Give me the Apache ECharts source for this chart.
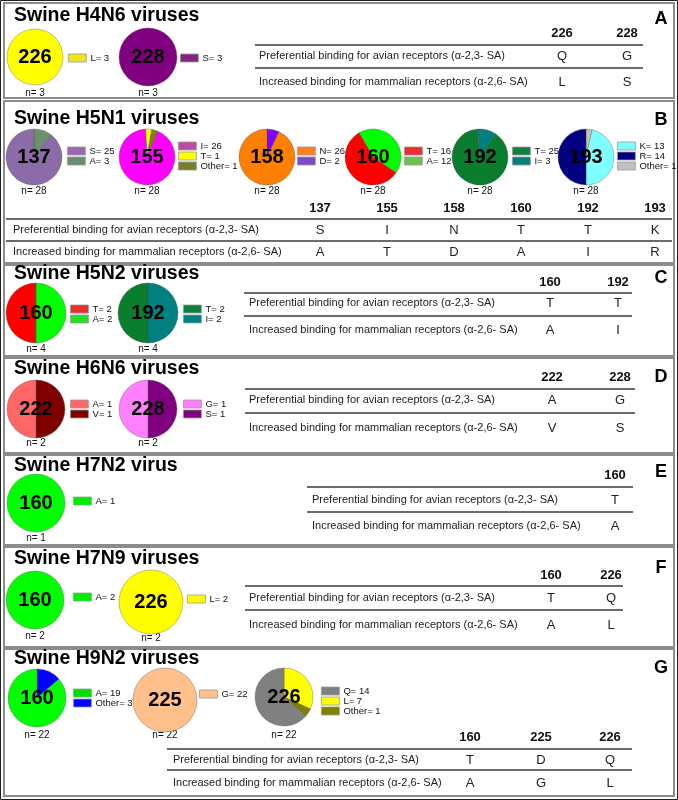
<!DOCTYPE html>
<html><head><meta charset="utf-8">
<script src="https://cdn.jsdelivr.net/npm/echarts@6/dist/echarts.min.js"></script>
<style>html,body{margin:0;padding:0;background:#fff}#c{width:678px;height:800px}</style>
</head><body><div id="c"></div><script>
// ---------------- DATA ----------------
const panelTitles = ['Swine H4N6 viruses','Swine H5N1 viruses','Swine H5N2 viruses','Swine H6N6 viruses','Swine H7N2 virus','Swine H7N9 viruses','Swine H9N2 viruses'];
const panelLetters = ['A','B','C','D','E','F','G'];

// residue counts per HA site (legend order)
const H4N6_226 = [['L',3]];
const H4N6_228 = [['S',3]];
const H5N1_137 = [['S',25],['A',3]];
const H5N1_155 = [['I',26],['T',1],['Other',1]];
const H5N1_158 = [['N',26],['D',2]];
const H5N1_160 = [['T',16],['A',12]];
const H5N1_192 = [['T',25],['I',3]];
const H5N1_193 = [['K',13],['R',14],['Other',1]];
const H5N2_160 = [['T',2],['A',2]];
const H5N2_192 = [['T',2],['I',2]];
const H6N6_222 = [['A',1],['V',1]];
const H6N6_228 = [['G',1],['S',1]];
const H7N2_160 = [['A',1]];
const H7N9_160 = [['A',2]];
const H7N9_226 = [['L',2]];
const H9N2_160 = [['A',19],['Other',3]];
const H9N2_225 = [['G',22]];
const H9N2_226 = [['Q',14],['L',7],['Other',1]];

// receptor-binding tables: sites, avian-type residue, mammalian-type residue
const rowLabels = ['Preferential binding for avian receptors (α-2,3- SA)','Increased binding for mammalian receptors (α-2,6- SA)'];
const H4N6_sites = ['226','228'], H4N6_avian = ['Q','G'], H4N6_mammal = ['L','S'];
const H5N1_sites = ['137','155','158','160','192','193'], H5N1_avian = ['S','I','N','T','T','K'], H5N1_mammal = ['A','T','D','A','I','R'];
const H5N2_sites = ['160','192'], H5N2_avian = ['T','T'], H5N2_mammal = ['A','I'];
const H6N6_sites = ['222','228'], H6N6_avian = ['A','G'], H6N6_mammal = ['V','S'];
const H7N2_sites = ['160'], H7N2_avian = ['T'], H7N2_mammal = ['A'];
const H7N9_sites = ['160','226'], H7N9_avian = ['T','Q'], H7N9_mammal = ['A','L'];
const H9N2_sites = ['160','225','226'], H9N2_avian = ['T','D','Q'], H9N2_mammal = ['A','G','L'];

// ---------------- LAYOUT ----------------
const FONT = "'Liberation Sans', Arial, Helvetica, sans-serif";
const panelBox = [[3,98],[101,263],[265,356],[358,453],[455,545],[547,647],[649,796]];
const titleY = [16,119,274,369,466,559,659];
const letterY = [19,120,278,377,472,568,668];

const pieLayout = [
 {id:'a226', site:'226', data:H4N6_226, c:[35,57],  r:28, lg:[68,53],  order:[0],     start:90,  col:['#FFFF00'], lcol:['#F2E31C'], nY:93},
 {id:'a228', site:'228', data:H4N6_228, c:[148,57], r:29, lg:[180,53], order:[0],     start:90,  col:['#800080'], lcol:['#812781'], nY:93},
 {id:'b137', site:'137', data:H5N1_137, c:[34,157], r:28, lg:[67,146], order:[1,0],   start:90,  col:['#8C6BA9','#6D8F70'], lcol:['#9A67B0','#6B8C6E'], nY:191},
 {id:'b155', site:'155', data:H5N1_155, c:[147,157],r:28, lg:[178,141],order:[1,2,0], start:93,  col:['#FF00FF','#FFFF00','#808000'], lcol:['#BE4AA6','#FFFF00','#7D7D27'], nY:191},
 {id:'b158', site:'158', data:H5N1_158, c:[267,157],r:28, lg:[297,146],order:[1,0],   start:90,  col:['#FF8000','#8000FF'], lcol:['#FF7F1E','#7E4CC2'], nY:191},
 {id:'b160', site:'160', data:H5N1_160, c:[373,157],r:28, lg:[404,146],order:[1,0],   start:120, col:['#FF0000','#00FF00'], lcol:['#EC2A30','#6BC24B'], nY:191},
 {id:'b192', site:'192', data:H5N1_192, c:[480,157],r:28, lg:[512,146],order:[1,0],   start:95,  col:['#0B7D2F','#007F80'], lcol:['#0E8040','#00807F'], nY:191},
 {id:'b193', site:'193', data:H5N1_193, c:[586,157],r:28, lg:[617,141],order:[2,0,1], start:90,  col:['#80FFFF','#000080','#C0C0C0'], lcol:['#80FFFF','#000080','#C0C0C0'], nY:191},
 {id:'c160', site:'160', data:H5N2_160, c:[36,313], r:30, lg:[70,304], order:[1,0],   start:90,  col:['#FF0000','#00FF00'], lcol:['#EE2A2A','#22E022'], nY:349},
 {id:'c192', site:'192', data:H5N2_192, c:[148,313],r:30, lg:[183,304],order:[1,0],   start:90,  col:['#0B7D2F','#008080'], lcol:['#0E8040','#008080'], nY:349},
 {id:'d222', site:'222', data:H6N6_222, c:[36,409], r:29, lg:[70,399], order:[1,0],   start:90,  col:['#FF6666','#800000'], lcol:['#FF6666','#800000'], nY:443},
 {id:'d228', site:'228', data:H6N6_228, c:[148,409],r:29, lg:[183,399],order:[1,0],   start:90,  col:['#FF80FF','#800080'], lcol:['#FF80FF','#800080'], nY:443},
 {id:'e160', site:'160', data:H7N2_160, c:[36,503], r:29, lg:[73,496], order:[0],     start:90,  col:['#00FF00'], lcol:['#00F000'], nY:538},
 {id:'f160', site:'160', data:H7N9_160, c:[35,600], r:29, lg:[73,592], order:[0],     start:90,  col:['#00FF00'], lcol:['#00F000'], nY:636},
 {id:'f226', site:'226', data:H7N9_226, c:[151,602],r:32, lg:[187,594],order:[0],     start:90,  col:['#FFFF00'], lcol:['#FFFF00'], nY:638},
 {id:'g160', site:'160', data:H9N2_160, c:[37,698], r:29, lg:[73,688], order:[1,0],   start:90,  col:['#00FF00','#0000FF'], lcol:['#00E000','#0000FF'], nY:735},
 {id:'g225', site:'225', data:H9N2_225, c:[165,700],r:32, lg:[199,689],order:[0],     start:90,  col:['#FFC08C'], lcol:['#FFC08C'], nY:735},
 {id:'g226', site:'226', data:H9N2_226, c:[284,697],r:29, lg:[321,686],order:[1,2,0], start:90,  col:['#808080','#FFFF00','#808000'], lcol:['#808080','#FFFF00','#808000'], nY:735}
];

const tableLayout = [
 {sites:H4N6_sites, av:H4N6_avian, mm:H4N6_mammal, hY:33,  l1:45,  r1:56,  l2:68,  r2:82,  x0:255, x1:643, lx:259, cols:[562,627]},
 {sites:H5N1_sites, av:H5N1_avian, mm:H5N1_mammal, hY:208, l1:219, r1:230, l2:241, r2:252, x0:6,   x1:672, lx:13,  cols:[320,387,454,521,588,655]},
 {sites:H5N2_sites, av:H5N2_avian, mm:H5N2_mammal, hY:282, l1:293, r1:303, l2:316, r2:330, x0:244, x1:632, lx:249, cols:[550,618]},
 {sites:H6N6_sites, av:H6N6_avian, mm:H6N6_mammal, hY:377, l1:389, r1:400, l2:413, r2:428, x0:245, x1:635, lx:249, cols:[552,620]},
 {sites:H7N2_sites, av:H7N2_avian, mm:H7N2_mammal, hY:475, l1:487, r1:500, l2:512, r2:526, x0:307, x1:633, lx:312, cols:[615]},
 {sites:H7N9_sites, av:H7N9_avian, mm:H7N9_mammal, hY:575, l1:586, r1:598, l2:610, r2:625, x0:245, x1:623, lx:249, cols:[551,611]},
 {sites:H9N2_sites, av:H9N2_avian, mm:H9N2_mammal, hY:737, l1:749, r1:760, l2:770, r2:783, x0:167, x1:632, lx:173, cols:[470,541,610]}
];

// ---------------- BUILD ----------------
const series = [], legends = [], graphics = [], labelMap = {};

graphics.push({type:'rect', shape:{x:0.5,y:0.5,width:677,height:799}, style:{fill:'none', stroke:'#222', lineWidth:1}, silent:true});
panelBox.forEach((b,i) => {
  graphics.push({type:'rect', shape:{x:4,y:b[0],width:670,height:b[1]-b[0]}, style:{fill:'none', stroke:'#8c8c8c', lineWidth:2}, silent:true});
  graphics.push({type:'text', x:14, y:titleY[i], style:{text:panelTitles[i], font:'bold 19.5px '+FONT, fill:'#000', textVerticalAlign:'middle'}, silent:true});
  graphics.push({type:'text', x:661, y:letterY[i], style:{text:panelLetters[i], font:'bold 18px '+FONT, fill:'#000', textAlign:'center', textVerticalAlign:'middle'}, silent:true});
});

pieLayout.forEach(p => {
  const names = p.data.map(d => p.id + '|' + d[0]);
  p.data.forEach((d,k) => { labelMap[names[k]] = d[0] + '= ' + d[1]; });
  const total = p.data.reduce((s,d) => s + d[1], 0);
  const sdata = p.order.map((k,j) => {
    const item = {name:names[k], value:p.data[k][1], itemStyle:{color:p.col[k]}};
    if (j === 0) item.label = {show:true, position:'center', formatter:p.site, fontSize:20, fontWeight:'bold', color:'#000', fontFamily:FONT};
    return item;
  });
  series.push({type:'pie', center:p.c, radius:p.r, startAngle:p.start, clockwise:true,
    avoidLabelOverlap:false, label:{show:false}, labelLine:{show:false},
    itemStyle:{borderColor:'rgba(80,80,80,0.6)', borderWidth:0.6},
    emphasis:{disabled:true}, silent:true, data:sdata});
  legends.push({orient:'vertical', left:p.lg[0], top:p.lg[1], padding:0, itemGap:0,
    itemWidth:18, itemHeight:8, icon:'rect', selectedMode:false,
    formatter: n => labelMap[n],
    textStyle:{fontSize:9.5, lineHeight:10, color:'#111', fontFamily:FONT, padding:[0,0,0,-1]},
    data: names.map((n,k) => ({name:n, itemStyle:{color:p.lcol[k], borderColor:'#9a9a9a', borderWidth:0.8}}))});
  graphics.push({type:'text', x:p.c[0], y:p.nY, style:{text:'n= ' + total, font:'10px '+FONT, fill:'#111', textAlign:'center', textVerticalAlign:'middle'}, silent:true});
});

tableLayout.forEach(t => {
  [t.l1, t.l2].forEach(y => graphics.push({type:'line', shape:{x1:t.x0,y1:y,x2:t.x1,y2:y}, style:{stroke:'#3a3a3a', lineWidth:1.5}, silent:true}));
  graphics.push({type:'text', x:t.lx, y:t.r1, style:{text:rowLabels[0], font:'11px '+FONT, fill:'#222', textVerticalAlign:'middle'}, silent:true});
  graphics.push({type:'text', x:t.lx, y:t.r2, style:{text:rowLabels[1], font:'11px '+FONT, fill:'#222', textVerticalAlign:'middle'}, silent:true});
  t.sites.forEach((s,k) => {
    const x = t.cols[k];
    graphics.push({type:'text', x, y:t.hY, style:{text:s, font:'bold 13px '+FONT, fill:'#111', textAlign:'center', textVerticalAlign:'middle'}, silent:true});
    graphics.push({type:'text', x, y:t.r1, style:{text:t.av[k], font:'13px '+FONT, fill:'#222', textAlign:'center', textVerticalAlign:'middle'}, silent:true});
    graphics.push({type:'text', x, y:t.r2, style:{text:t.mm[k], font:'13px '+FONT, fill:'#222', textAlign:'center', textVerticalAlign:'middle'}, silent:true});
  });
});

const chart = echarts.init(document.getElementById('c'), null, {renderer:'canvas'});
chart.setOption({animation:false, backgroundColor:'#fff', series, legend:legends, graphic:graphics});
</script></body></html>
